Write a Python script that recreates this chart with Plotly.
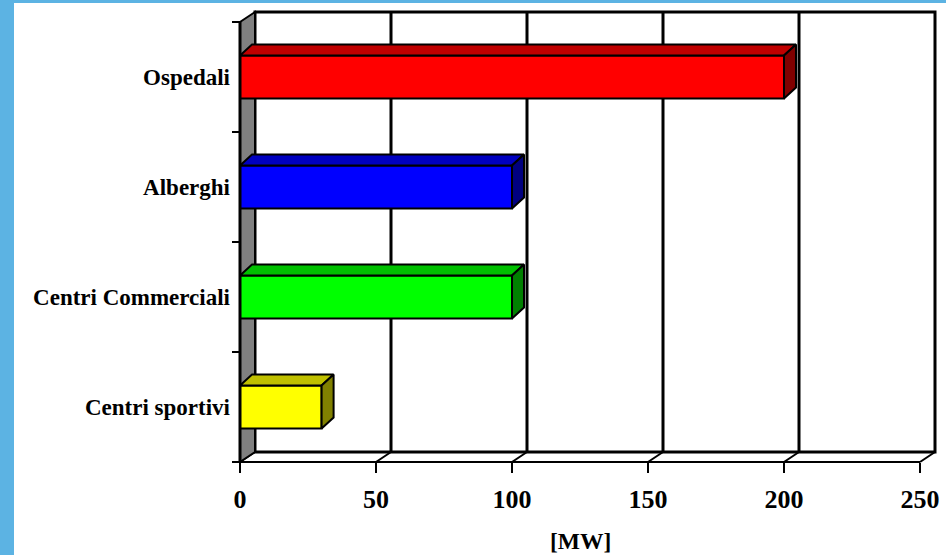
import plotly.graph_objects as go

# ---- data -------------------------------------------------------------
categories = ["Centri sportivi", "Centri Commerciali", "Alberghi", "Ospedali"]
values_mw = [30, 100, 100, 200]
front_colors = ["#FFFF00", "#00FF00", "#0000FF", "#FF0000"]
top_colors = ["#C0C000", "#00C000", "#0000C0", "#C00000"]
side_colors = ["#808000", "#008000", "#000080", "#800000"]
x_ticks = [0, 50, 100, 150, 200, 250]
x_title = "[MW]"

# ---- geometry (pixels) ------------------------------------------------
W_PX, H_PX = 946, 555
PLOT_L, PLOT_R, PLOT_T, PLOT_B = 222, 944, 6, 482
ORIGIN_X_PX, ORIGIN_Y_PX = 240, 462      # front corner of the floor
PX_PER_MW = 2.72
PX_PER_ROW = 110

X_MIN = (PLOT_L - ORIGIN_X_PX) / PX_PER_MW
X_MAX = (PLOT_R - ORIGIN_X_PX) / PX_PER_MW
Y_MIN = -0.5 - (PLOT_B - ORIGIN_Y_PX) / PX_PER_ROW
Y_MAX = -0.5 + (ORIGIN_Y_PX - PLOT_T) / PX_PER_ROW

# depth of the walls and of the bars, in data units
WALL_DX, WALL_DY = 15 / PX_PER_MW, 10 / PX_PER_ROW
BAR_DX, BAR_DY = 12 / PX_PER_MW, 11 / PX_PER_ROW
BAR_W = 43 / PX_PER_ROW

X_END = x_ticks[-1]
Y_LO, Y_HI = -0.5, len(categories) - 0.5

FONT = "Liberation Serif, Times New Roman, serif"
FRAME_BLUE = "#5CB3E3"


def paper_x(px):
    return (px - PLOT_L) / (PLOT_R - PLOT_L)


def paper_y(py):
    return (PLOT_B - py) / (PLOT_B - PLOT_T)


positions = list(range(len(categories)))

fig = go.Figure()

# front faces of the bars
fig.add_trace(go.Bar(
    x=values_mw, y=positions, orientation="h", base=0, width=BAR_W,
    marker=dict(color=front_colors, line=dict(color="black", width=2)),
    hoverinfo="skip", showlegend=False,
))

# top and side faces giving the bars their depth
for pos, val, ct, cs in zip(positions, values_mw, top_colors, side_colors):
    yt, yb = pos + BAR_W / 2, pos - BAR_W / 2
    fig.add_trace(go.Scatter(
        x=[0, val, val + BAR_DX, BAR_DX, 0],
        y=[yt, yt, yt + BAR_DY, yt + BAR_DY, yt],
        fill="toself", fillcolor=ct, mode="lines",
        line=dict(color="black", width=2), hoverinfo="skip", showlegend=False,
    ))
    fig.add_trace(go.Scatter(
        x=[val, val, val + BAR_DX, val + BAR_DX, val],
        y=[yb, yt, yt + BAR_DY, yb + BAR_DY, yb],
        fill="toself", fillcolor=cs, mode="lines",
        line=dict(color="black", width=2), hoverinfo="skip", showlegend=False,
    ))

shapes = []
# back wall
shapes.append(dict(type="rect", xref="x", yref="y", layer="below",
                   x0=WALL_DX, x1=X_END + WALL_DX,
                   y0=Y_LO + WALL_DY, y1=Y_HI + WALL_DY,
                   fillcolor="white", line=dict(color="black", width=3)))
# vertical grid lines on the back wall
for t in x_ticks[1:-1]:
    shapes.append(dict(type="line", xref="x", yref="y", layer="below",
                       x0=t + WALL_DX, x1=t + WALL_DX,
                       y0=Y_LO + WALL_DY, y1=Y_HI + WALL_DY,
                       line=dict(color="black", width=3)))
# floor edges joining the front ticks to the back grid
for t in x_ticks:
    shapes.append(dict(type="line", xref="x", yref="y", layer="below",
                       x0=t, x1=t + WALL_DX, y0=Y_LO, y1=Y_LO + WALL_DY,
                       line=dict(color="black", width=2)))
# left side wall
shapes.append(dict(type="path", xref="x", yref="y", layer="below",
                   path=(f"M0,{Y_LO} L0,{Y_HI} L{WALL_DX},{Y_HI + WALL_DY} "
                         f"L{WALL_DX},{Y_LO + WALL_DY} Z"),
                   fillcolor="#808080", line=dict(color="black", width=2)))
# front axis lines
shapes.append(dict(type="line", xref="x", yref="y",
                   x0=0, x1=0, y0=Y_LO, y1=Y_HI,
                   line=dict(color="black", width=3)))
shapes.append(dict(type="line", xref="x", yref="y",
                   x0=0, x1=X_END, y0=Y_LO, y1=Y_LO,
                   line=dict(color="black", width=2)))
# light blue frame strips
shapes.append(dict(type="rect", xref="paper", yref="paper", layer="above",
                   x0=paper_x(0), x1=paper_x(14), y0=paper_y(H_PX), y1=paper_y(0),
                   fillcolor=FRAME_BLUE, line=dict(width=0)))
shapes.append(dict(type="rect", xref="paper", yref="paper", layer="above",
                   x0=paper_x(0), x1=paper_x(W_PX), y0=paper_y(3), y1=paper_y(0),
                   fillcolor=FRAME_BLUE, line=dict(width=0)))

fig.update_layout(
    width=W_PX, height=H_PX,
    margin=dict(l=PLOT_L, r=W_PX - PLOT_R, t=PLOT_T, b=H_PX - PLOT_B),
    paper_bgcolor="white", plot_bgcolor="white",
    showlegend=False,
    shapes=shapes,
    xaxis=dict(
        range=[X_MIN, X_MAX], anchor="free",
        position=paper_y(ORIGIN_Y_PX),
        tickvals=x_ticks, ticktext=[str(t) for t in x_ticks],
        ticks="outside", ticklen=10, tickwidth=2, tickcolor="black",
        ticklabelstandoff=4,
        tickfont=dict(family=FONT, size=26, color="black", weight="bold"),
        showgrid=False, zeroline=False, showline=False, fixedrange=True,
    ),
    yaxis=dict(
        range=[Y_MIN, Y_MAX], anchor="free",
        position=paper_x(ORIGIN_X_PX),
        tickvals=positions, ticktext=categories,
        ticks="", ticklabelstandoff=10,
        tickfont=dict(family=FONT, size=23, color="black", weight="bold"),
        minor=dict(tickvals=[p - 0.5 for p in positions] + [Y_HI],
                   ticks="outside", ticklen=8, tickwidth=2, tickcolor="black",
                   showgrid=False),
        showgrid=False, zeroline=False, showline=False, fixedrange=True,
    ),
    annotations=[dict(
        text=x_title, xref="paper", yref="paper",
        x=paper_x(580), y=paper_y(541), xanchor="center", yanchor="middle",
        showarrow=False,
        font=dict(family=FONT, size=23.5, color="black", weight="bold"),
    )],
)

fig.write_html("out.html")
